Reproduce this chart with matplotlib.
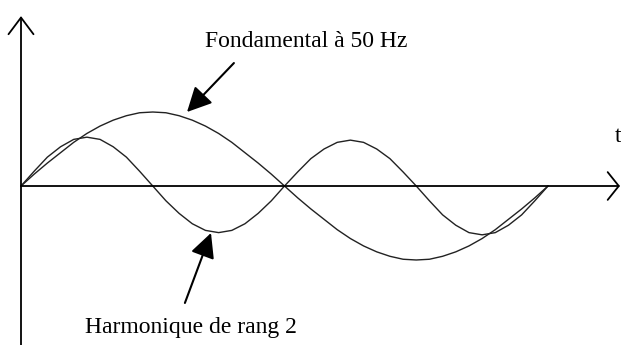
import numpy as np
import matplotlib
matplotlib.use("Agg")
import matplotlib.pyplot as plt

# temps en ms (une période du fondamental à 50 Hz = 20 ms), relevé tous les 0.5 ms
t_ms = np.arange(0, 20.5, 0.5)

# fondamental (amplitude relative 1)
fondamental = [0.00, 0.16, 0.31, 0.45, 0.59, 0.71, 0.81, 0.89, 0.95, 0.99,
               1.00, 0.99, 0.95, 0.89, 0.81, 0.71, 0.59, 0.45, 0.31, 0.16,
               0.00, -0.16, -0.31, -0.45, -0.59, -0.71, -0.81, -0.89, -0.95, -0.99,
               -1.00, -0.99, -0.95, -0.89, -0.81, -0.71, -0.59, -0.45, -0.31, -0.16,
               0.00]

# harmonique de rang 2 (100 Hz)
harmonique = [0.00, 0.20, 0.39, 0.53, 0.63, 0.66, 0.63, 0.53, 0.39, 0.20,
              0.00, -0.20, -0.37, -0.51, -0.60, -0.63, -0.60, -0.51, -0.37, -0.20,
              0.00, 0.19, 0.37, 0.50, 0.59, 0.62, 0.59, 0.50, 0.37, 0.19,
              0.00, -0.20, -0.39, -0.53, -0.63, -0.66, -0.63, -0.53, -0.39, -0.20,
              0.00]

plt.rcParams['font.family'] = ['Liberation Serif', 'DejaVu Serif']

fig = plt.figure(figsize=(6.21, 3.45), dpi=100)
ax = fig.add_axes([0, 0, 1, 1])
ax.set_xlim(-0.797, 22.77)
ax.set_ylim(-2.149, 2.514)
ax.axis('off')

# axes avec flèches ouvertes
ax.annotate('', xy=(0, 2.297), xytext=(0, -2.2),
            arrowprops=dict(arrowstyle='->,head_length=12,head_width=9', lw=1.3,
                            color='black', mutation_scale=1, shrinkA=0, shrinkB=0),
            annotation_clip=False)
ax.annotate('', xy=(22.73, 0), xytext=(0, 0),
            arrowprops=dict(arrowstyle='->,head_length=8,head_width=10', lw=1.3,
                            color='black', mutation_scale=1, shrinkA=0, shrinkB=0),
            annotation_clip=False)

ax.plot(t_ms, fondamental, color='#222222', lw=1.0)
ax.plot(t_ms, harmonique, color='#222222', lw=1.0)

fleche = dict(arrowstyle='-|>,head_length=15,head_width=7.5', lw=1.5,
              color='black', mutation_scale=1, shrinkA=0, shrinkB=0)
ax.annotate('', xy=(6.30, 1.0), xytext=(8.08, 1.662), arrowprops=fleche)
ax.annotate('', xy=(7.21, -0.635), xytext=(6.22, -1.581), arrowprops=fleche)

ax.text(6.98, 1.878, 'Fondamental à 50 Hz', fontsize=17, va='baseline', ha='left')
ax.text(2.43, -1.986, 'Harmonique de rang 2', fontsize=17, va='baseline', ha='left')
ax.text(22.54, 0.595, 't', fontsize=17, va='baseline', ha='left')

fig.savefig('out.png', dpi=100)
